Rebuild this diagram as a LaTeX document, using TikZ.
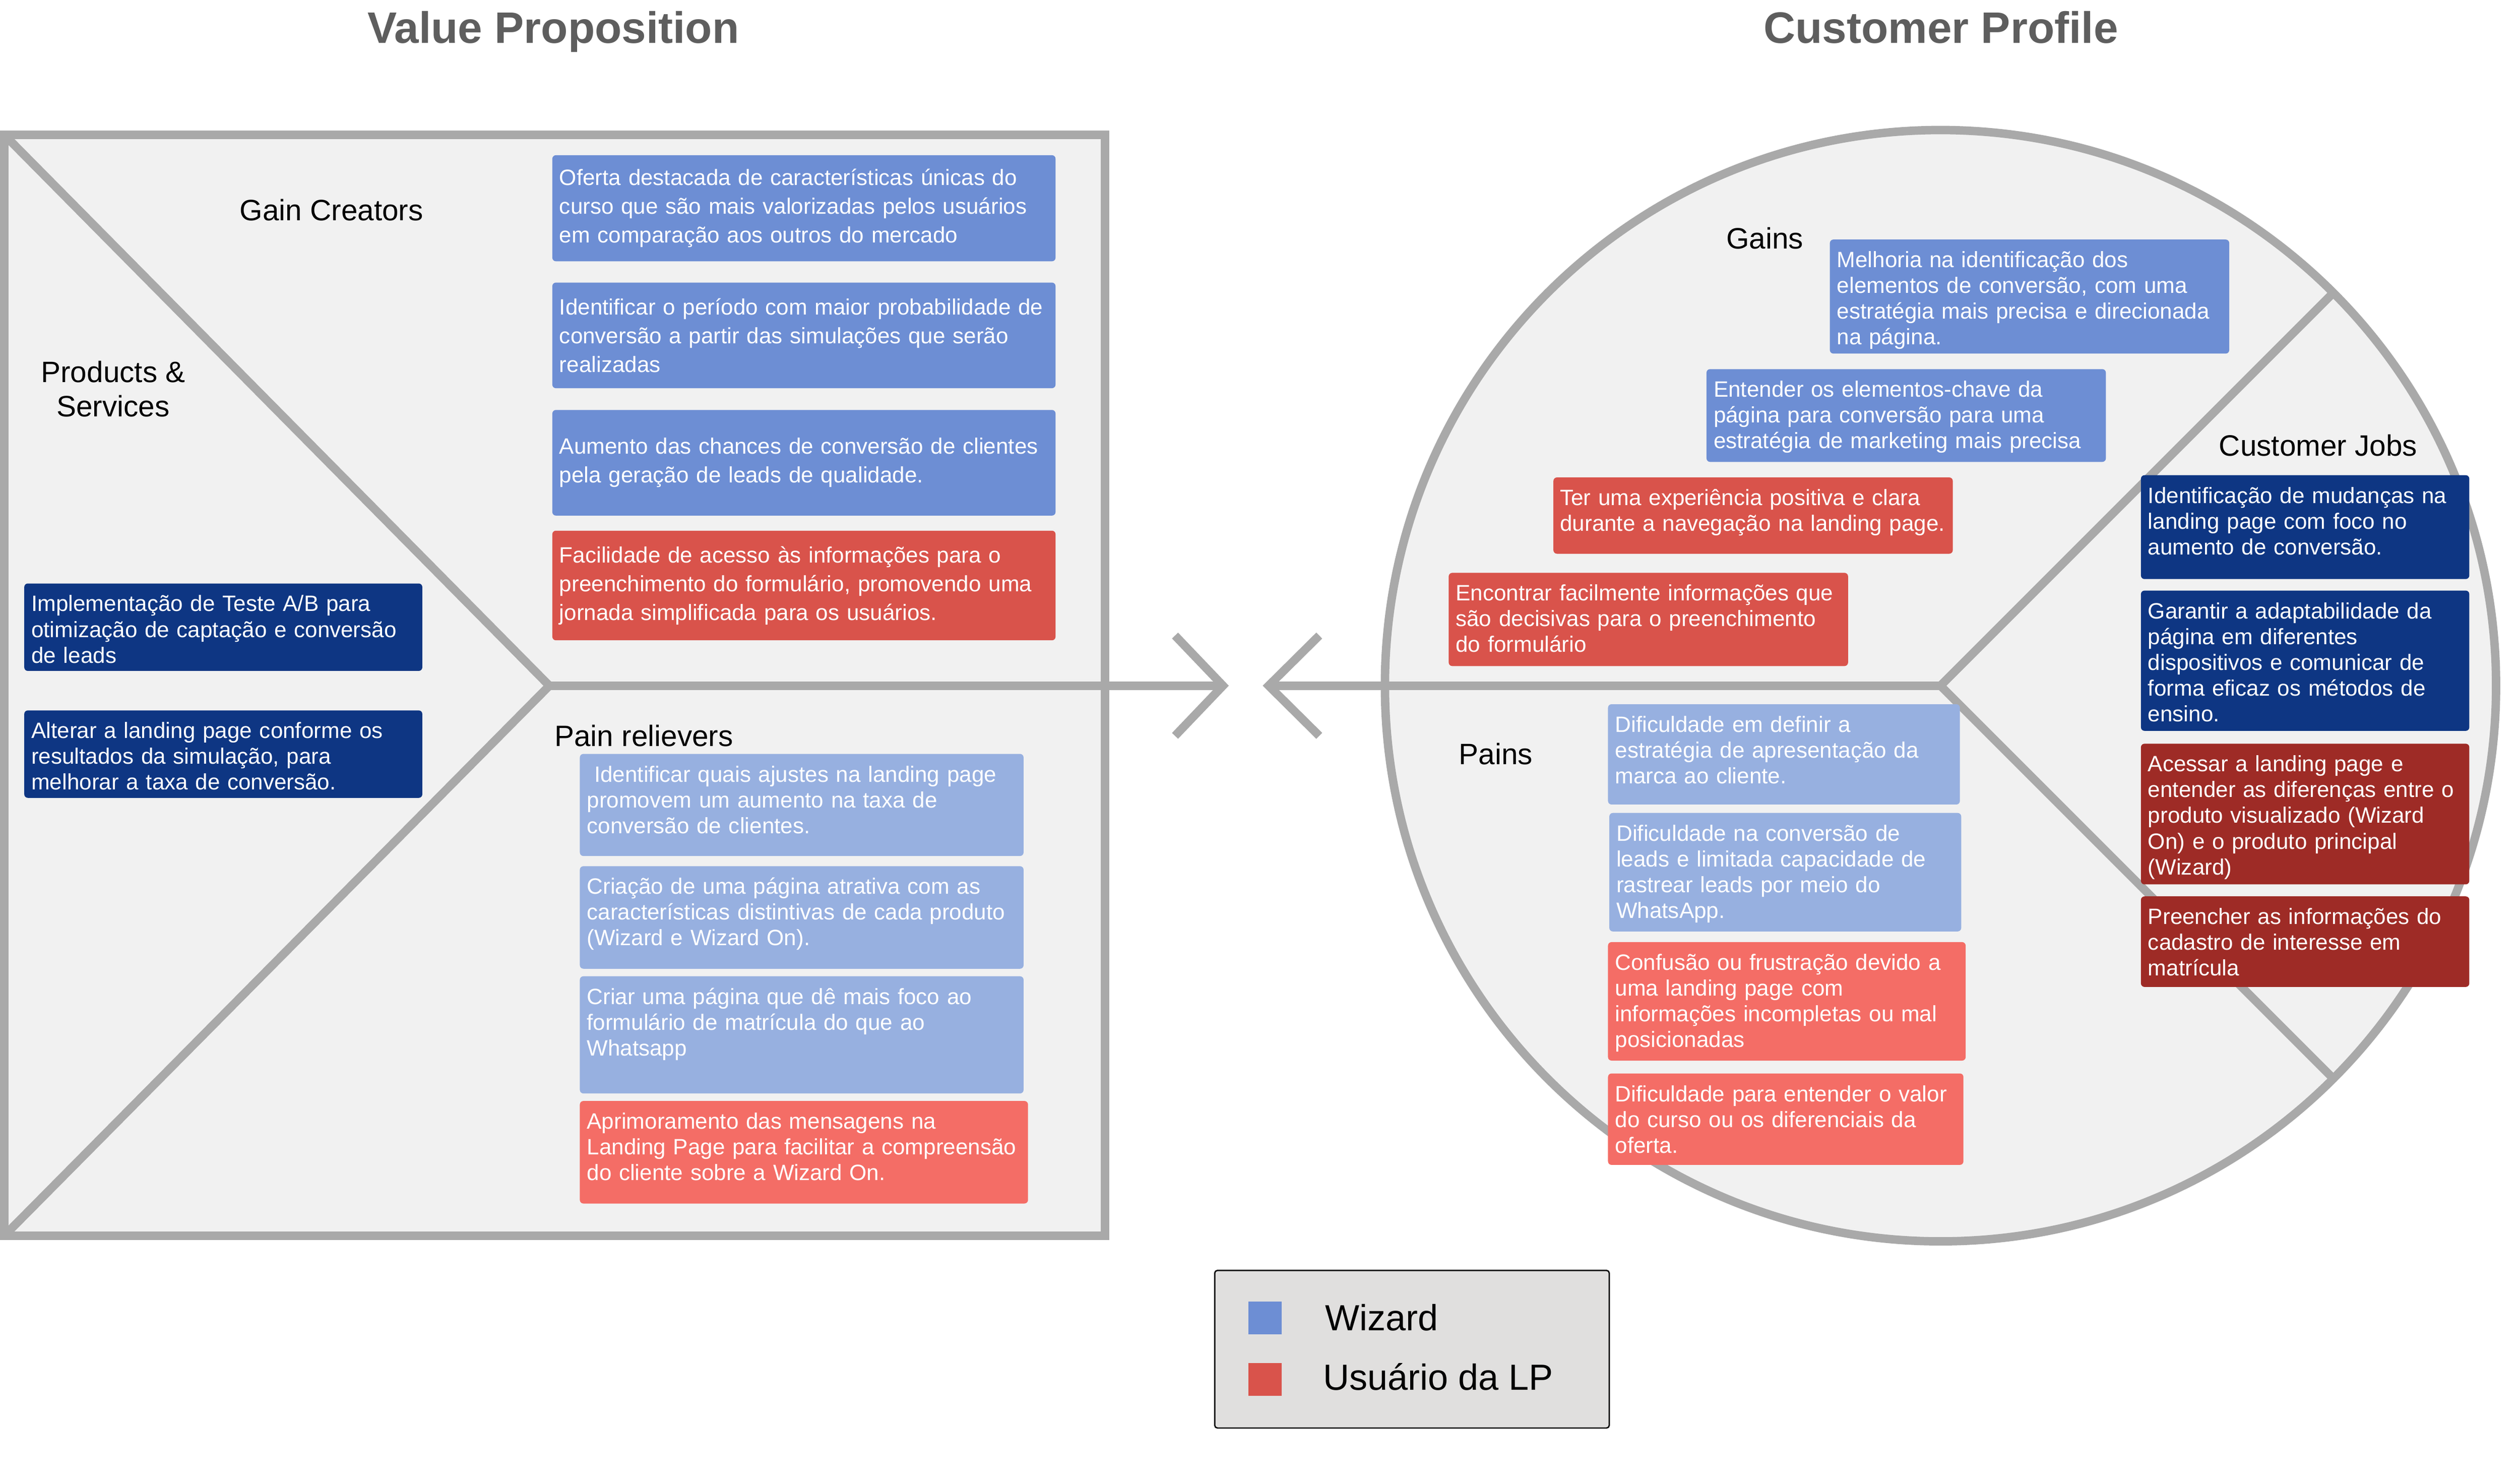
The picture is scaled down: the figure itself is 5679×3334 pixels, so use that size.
\documentclass[tikz,border=0pt]{standalone}
\usepackage{fontspec}
\setmainfont{Liberation Sans}
\setsansfont{Liberation Sans}
\usepackage{tikz}

\definecolor{panel}{HTML}{F1F1F1}
\definecolor{rim}{HTML}{A9A9A9}
\definecolor{titlegray}{HTML}{5E5E5E}
\definecolor{wiz}{HTML}{6D8ED4}
\definecolor{wizlight}{HTML}{97B0E0}
\definecolor{wizdark}{HTML}{0E3683}
\definecolor{lp}{HTML}{D9534B}
\definecolor{lplight}{HTML}{F46D66}
\definecolor{lpdark}{HTML}{9E2B26}
\definecolor{legfill}{HTML}{E0DFDE}

\newcommand{\cardfont}{\fontsize{14.23}{16.5}\selectfont}
\newcommand{\gcfont}{\fontsize{14.23}{18.38}\selectfont}
\newcommand{\lblfont}{\fontsize{18.9}{22.2}\selectfont}
\newcommand{\headfont}{\fontsize{28.2}{32}\selectfont\bfseries}
\newcommand{\legfont}{\fontsize{23.3}{28}\selectfont}

\begin{document}
\begin{tikzpicture}[x=0.1mm, y=-0.1mm, line join=miter,
	rimline/.style={draw=rim, line width=1.9mm},
	card/.style={anchor=north west, rounded corners=0.8mm, inner xsep=1.6mm, inner ysep=0pt, text=white, align=left, font=\cardfont, text height=6.3mm},
	gcard/.style={anchor=north west, rounded corners=0.8mm, inner xsep=1.6mm, inner ysep=0pt, text=white, align=left, font=\gcfont, text width=110.2mm},
	lbl/.style={font=\lblfont, inner sep=0pt},
	head/.style={font=\headfont, text=titlegray, inner sep=0pt, anchor=base},
	swatch/.style={minimum width=7.5mm, minimum height=7.4mm, inner sep=0pt, anchor=north west},
	legtxt/.style={font=\legfont, inner sep=0pt, anchor=base west}]
	\useasboundingbox (0,0) rectangle (5679,3334);

	% titles
	\node[head] (vp) at (1247,97) {Value Proposition};
	\node[head] (cprof) at (4374,97) {Customer Profile};

	% value proposition square
	\draw[rimline, fill=panel] (10,304) rectangle (2490,2784);
	\coordinate (apex) at (1238,1545);
	\draw[rimline] (10,304) -- (apex) -- (10,2784);
	\draw[rimline] (apex) -- (2756,1545);
	\draw[rimline] (2648,1432) -- (2756,1545) -- (2648,1658);

	% customer profile circle
	\coordinate (cp) at (4373,1545);
	\draw[rimline, fill=panel] (cp) circle[radius=1252];
	\draw[rimline] (2973,1432) -- (2859,1545) -- (2973,1658);
	\draw[rimline] (2859,1545) -- (cp);
	\draw[rimline] (cp) ++(885,-885) -- (cp) -- ++(885,885);

	% section labels
	\node[lbl, anchor=base] (gaincr) at (747,497) {Gain Creators};
	\node[lbl, anchor=base, align=center] (prodserv) at (255,939) {Products \&\\Services};
	\node[lbl, anchor=base west] (painrel) at (1249,1682) {Pain relievers};
	\node[lbl, anchor=base] (gains) at (3977,560) {Gains};
	\node[lbl, anchor=base] (custjobs) at (5224,1027) {Customer Jobs};
	\node[lbl, anchor=base] (pains) at (3371,1722) {Pains};

	% gain creators
	\node[gcard, fill=wiz, minimum height=23.9mm] (gc1) at (1244,349) {Oferta destacada de características únicas do\\curso que são mais valorizadas pelos usuários\\em comparação aos outros do mercado};
	\node[gcard, fill=wiz, minimum height=23.8mm] (gc2) at (1244,636) {Identificar o período com maior probabilidade de\\conversão a partir das simulações que serão\\realizadas};
	\node[gcard, fill=wiz, minimum height=23.8mm] (gc3) at (1244,923) {Aumento das chances de conversão de clientes\\pela geração de leads de qualidade.};
	\node[gcard, fill=lp, minimum height=24.7mm] (gc4) at (1244,1195) {Facilidade de acesso às informações para o\\preenchimento do formulário, promovendo uma\\jornada simplificada para os usuários.};

	% products and services
	\node[card, fill=wizdark, text width=86.5mm, text depth=13.4mm] (ps1) at (54,1314) {Implementação de Teste A/B para\\otimização de captação e conversão\\de leads};
	\node[card, fill=wizdark, text width=86.5mm, text depth=13.4mm] (ps2) at (54,1600) {Alterar a landing page conforme os\\resultados da simulação, para\\melhorar a taxa de conversão.};

	% pain relievers
	\node[card, fill=wizlight, text width=96.8mm, text depth=16.7mm] (pr1) at (1306,1698) {\ Identificar quais ajustes na landing page\\promovem um aumento na taxa de\\conversão de clientes.};
	\node[card, fill=wizlight, text width=96.8mm, text depth=16.8mm] (pr2) at (1306,1951) {Criação de uma página atrativa com as\\características distintivas de cada produto\\(Wizard e Wizard On).};
	\node[card, fill=wizlight, text width=96.8mm, text depth=20.1mm] (pr3) at (1306,2199) {Criar uma página que dê mais foco ao\\formulário de matrícula do que ao\\Whatsapp};
	\node[card, fill=lplight, text width=97.8mm, text depth=16.8mm] (pr4) at (1306,2480) {Aprimoramento das mensagens na\\Landing Page para facilitar a compreensão\\do cliente sobre a Wizard On.};

	% gains
	\node[card, fill=wiz, text width=86.8mm, text depth=19.4mm] (g1) at (4123,539) {Melhoria na identificação dos\\elementos de conversão, com uma\\estratégia mais precisa e direcionada\\na página.};
	\node[card, fill=wiz, text width=86.8mm, text depth=14.6mm] (g2) at (3845,831) {Entender os elementos-chave da\\página para conversão para uma\\estratégia de marketing mais precisa};
	\node[card, fill=lp, inner xsep=1.5mm, text width=87.0mm, text depth=10.9mm] (g3) at (3500,1075) {Ter uma experiência positiva e clara\\durante a navegação na landing page.};
	\node[card, fill=lp, text width=86.8mm, text depth=14.7mm] (g4) at (3264,1290) {Encontrar facilmente informações que\\são decisivas para o preenchimento\\do formulário};

	% pains
	\node[card, fill=wizlight, text width=76.1mm, text depth=16.3mm] (p1) at (3623,1586) {Dificuldade em definir a\\estratégia de apresentação da\\marca ao cliente.};
	\node[card, fill=wizlight, text width=76.1mm, text depth=20.4mm] (p2) at (3626,1831) {Dificuldade na conversão de\\leads e limitada capacidade de\\rastrear leads por meio do\\WhatsApp.};
	\node[card, fill=lplight, text width=77.4mm, text depth=20.4mm] (p3) at (3623,2122) {Confusão ou frustração devido a\\uma landing page com\\informações incompletas ou mal\\posicionadas};
	\node[card, fill=lplight, text width=76.9mm, text depth=14.3mm] (p4) at (3623,2418) {Dificuldade para entender o valor\\do curso ou os diferenciais da\\oferta.};

	% customer jobs
	\node[card, fill=wizdark, text width=70.8mm, text depth=17.1mm] (j1) at (4824,1070) {Identificação de mudanças na\\landing page com foco no\\aumento de conversão.};
	\node[card, fill=wizdark, text width=70.8mm, text depth=25.3mm] (j2) at (4824,1330) {Garantir a adaptabilidade da\\página em diferentes\\dispositivos e comunicar de\\forma eficaz os métodos de\\ensino.};
	\node[card, fill=lpdark, text width=70.8mm, text depth=25.4mm] (j3) at (4824,1675) {Acessar a landing page e\\entender as diferenças entre o\\produto visualizado (Wizard\\On) e o produto principal\\(Wizard)};
	\node[card, fill=lpdark, text width=70.8mm, text depth=14.1mm] (j4) at (4824,2019) {Preencher as informações do\\cadastro de interesse em\\matrícula};

	% legend
	\node[draw=black, line width=0.3mm, fill=legfill, rounded corners=0.6mm, minimum width=88.9mm, minimum height=35.5mm, anchor=north west, inner sep=0pt] (legend) at (2736,2861) {};
	\node[swatch, fill=wiz] (swwiz) at (2813,2932) {};
	\node[swatch, fill=lp] (swlp) at (2813,3070) {};
	\node[legtxt] (legwiz) at (2986,2998) {Wizard};
	\node[legtxt] (leglp) at (2981,3132) {Usuário da LP};
\end{tikzpicture}
\end{document}
